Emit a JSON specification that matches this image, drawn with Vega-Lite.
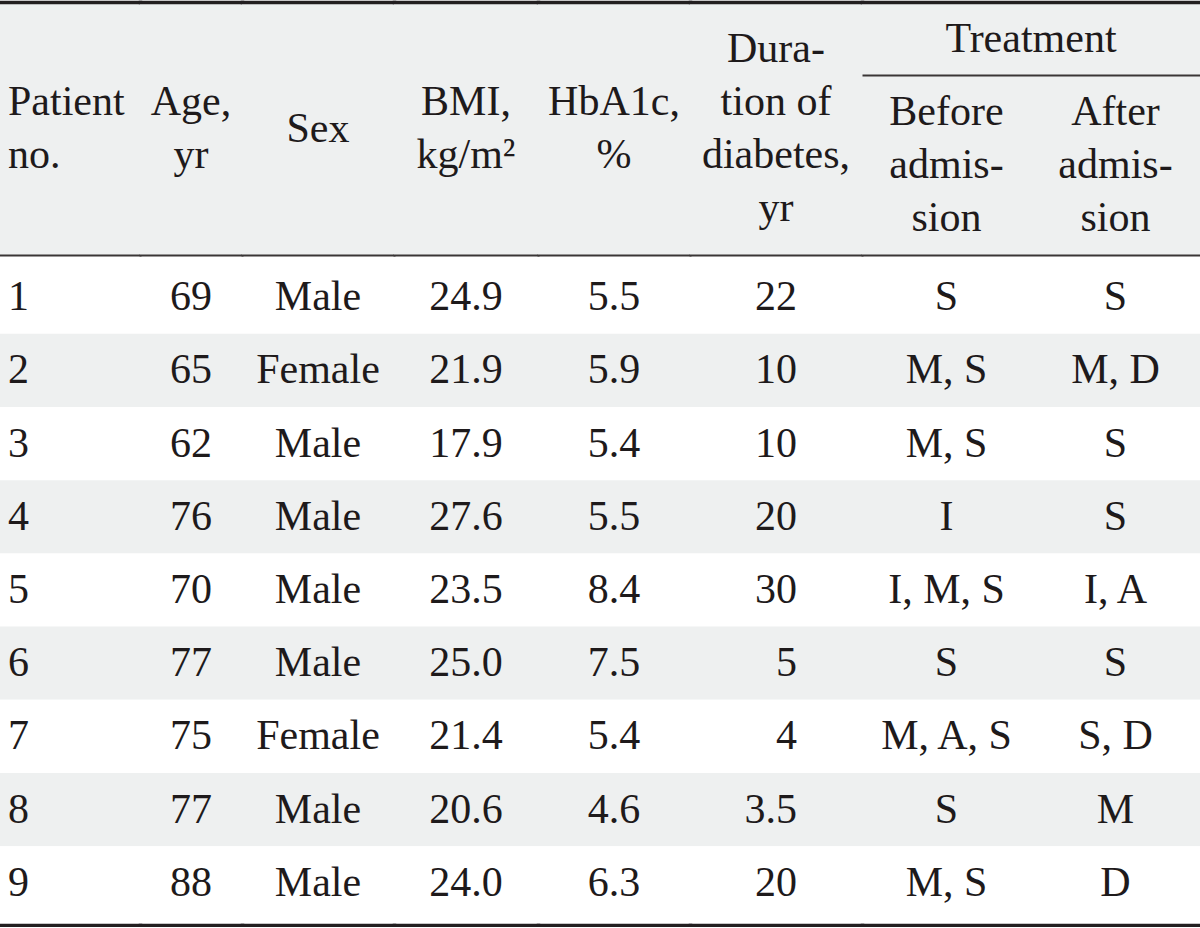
{
  "$schema": "https://vega.github.io/schema/vega-lite/v6.json",
  "padding": {"top": 2, "bottom": 2, "left": 0, "right": 0},
  "background": "white",
  "spacing": 0,
  "config": {
    "view": {"stroke": null},
    "concat": {"spacing": 0},
    "axis": {"labels": false, "ticks": false, "grid": false, "domainColor": "#231f20", "domainCap": "square"},
    "text": {"font": "Liberation Serif", "fontSize": 42, "color": "#1e1a1b"}
  },
  "data": {
    "values": [
      {"no": 1, "age": 69, "sex": "Male", "bmi": 24.9, "hba1c": 5.5, "duration": 22, "before": "S", "after": "S"},
      {"no": 2, "age": 65, "sex": "Female", "bmi": 21.9, "hba1c": 5.9, "duration": 10, "before": "M, S", "after": "M, D"},
      {"no": 3, "age": 62, "sex": "Male", "bmi": 17.9, "hba1c": 5.4, "duration": 10, "before": "M, S", "after": "S"},
      {"no": 4, "age": 76, "sex": "Male", "bmi": 27.6, "hba1c": 5.5, "duration": 20, "before": "I", "after": "S"},
      {"no": 5, "age": 70, "sex": "Male", "bmi": 23.5, "hba1c": 8.4, "duration": 30, "before": "I, M, S", "after": "I, A"},
      {"no": 6, "age": 77, "sex": "Male", "bmi": 25.0, "hba1c": 7.5, "duration": 5, "before": "S", "after": "S"},
      {"no": 7, "age": 75, "sex": "Female", "bmi": 21.4, "hba1c": 5.4, "duration": 4, "before": "M, A, S", "after": "S, D"},
      {"no": 8, "age": 77, "sex": "Male", "bmi": 20.6, "hba1c": 4.6, "duration": 3.5, "before": "S", "after": "M"},
      {"no": 9, "age": 88, "sex": "Male", "bmi": 24.0, "hba1c": 6.3, "duration": 20, "before": "M, S", "after": "D"}
    ]
  },
  "hconcat": [
    {
      "spacing": 0, "bounds": "flush",
      "vconcat": [
        {
          "width": 140, "height": 253, "view": {"fill": "#eef0f0", "stroke": null},
          "data": {"values": [{"key": "no", "label": "Patient\nno."}]},
          "mark": {"type": "text", "lineBreak": "\n", "lineHeight": 53, "baseline": "middle", "align": "left", "dx": 8, "dy": -26.5},
          "encoding": {
            "x": {"field": "key", "type": "nominal", "bandPosition": 0, "scale": {"type": "band", "paddingInner": 0, "paddingOuter": 0}, "axis": {"orient": "top", "title": null, "domainWidth": 3.5}},
            "text": {"field": "label"}
          }
        },
        {
          "width": 140, "height": 670,
          "transform": [{"fold": ["no"], "as": ["key", "value"]}],
          "layer": [
            {"mark": "rect", "encoding": {
              "x": {"field": "key", "type": "nominal", "scale": {"type": "band", "paddingInner": 0, "paddingOuter": 0}, "axis": {"orient": "bottom", "title": null, "domainWidth": 3.5}},
              "y": {"field": "no", "type": "ordinal", "scale": {"type": "band", "paddingInner": 0, "paddingOuter": 0.076}, "axis": null},
              "fill": {"condition": {"test": "datum.no % 2 == 0", "value": "#eef0f0"}, "value": "#ffffff"}}},
            {"mark": {"type": "text", "baseline": "middle", "align": "left", "dx": 8}, "encoding": {
              "x": {"field": "key", "type": "nominal", "bandPosition": 0, "scale": {"type": "band", "paddingInner": 0, "paddingOuter": 0}, "axis": {"orient": "top", "title": null, "domainWidth": 2, "domainColor": "#3a3636"}},
              "y": {"field": "no", "type": "ordinal", "scale": {"type": "band", "paddingInner": 0, "paddingOuter": 0.076}, "axis": null},
              "text": {"field": "value", "type": "nominal"}}}
          ],
          "resolve": {"axis": {"x": "independent"}}
        }
      ]
    },
    {
      "spacing": 0, "bounds": "flush",
      "vconcat": [
        {
          "width": 102, "height": 253, "view": {"fill": "#eef0f0", "stroke": null},
          "data": {"values": [{"key": "age", "label": "Age,\nyr"}]},
          "mark": {"type": "text", "lineBreak": "\n", "lineHeight": 53, "baseline": "middle", "dy": -26.5},
          "encoding": {
            "x": {"field": "key", "type": "nominal", "scale": {"type": "band", "paddingInner": 0, "paddingOuter": 0}, "axis": {"orient": "top", "title": null, "domainWidth": 3.5}},
            "text": {"field": "label"}
          }
        },
        {
          "width": 102, "height": 670,
          "transform": [{"fold": ["age"], "as": ["key", "value"]}],
          "layer": [
            {"mark": "rect", "encoding": {
              "x": {"field": "key", "type": "nominal", "scale": {"type": "band", "paddingInner": 0, "paddingOuter": 0}, "axis": {"orient": "bottom", "title": null, "domainWidth": 3.5}},
              "y": {"field": "no", "type": "ordinal", "scale": {"type": "band", "paddingInner": 0, "paddingOuter": 0.076}, "axis": null},
              "fill": {"condition": {"test": "datum.no % 2 == 0", "value": "#eef0f0"}, "value": "#ffffff"}}},
            {"mark": {"type": "text", "baseline": "middle"}, "encoding": {
              "x": {"field": "key", "type": "nominal", "scale": {"type": "band", "paddingInner": 0, "paddingOuter": 0}, "axis": {"orient": "top", "title": null, "domainWidth": 2, "domainColor": "#3a3636"}},
              "y": {"field": "no", "type": "ordinal", "scale": {"type": "band", "paddingInner": 0, "paddingOuter": 0.076}, "axis": null},
              "text": {"field": "value", "type": "nominal"}}}
          ],
          "resolve": {"axis": {"x": "independent"}}
        }
      ]
    },
    {
      "spacing": 0, "bounds": "flush",
      "vconcat": [
        {
          "width": 152, "height": 253, "view": {"fill": "#eef0f0", "stroke": null},
          "data": {"values": [{"key": "sex", "label": "Sex"}]},
          "mark": {"type": "text", "lineBreak": "\n", "lineHeight": 53, "baseline": "middle"},
          "encoding": {
            "x": {"field": "key", "type": "nominal", "scale": {"type": "band", "paddingInner": 0, "paddingOuter": 0}, "axis": {"orient": "top", "title": null, "domainWidth": 3.5}},
            "text": {"field": "label"}
          }
        },
        {
          "width": 152, "height": 670,
          "transform": [{"fold": ["sex"], "as": ["key", "value"]}],
          "layer": [
            {"mark": "rect", "encoding": {
              "x": {"field": "key", "type": "nominal", "scale": {"type": "band", "paddingInner": 0, "paddingOuter": 0}, "axis": {"orient": "bottom", "title": null, "domainWidth": 3.5}},
              "y": {"field": "no", "type": "ordinal", "scale": {"type": "band", "paddingInner": 0, "paddingOuter": 0.076}, "axis": null},
              "fill": {"condition": {"test": "datum.no % 2 == 0", "value": "#eef0f0"}, "value": "#ffffff"}}},
            {"mark": {"type": "text", "baseline": "middle"}, "encoding": {
              "x": {"field": "key", "type": "nominal", "scale": {"type": "band", "paddingInner": 0, "paddingOuter": 0}, "axis": {"orient": "top", "title": null, "domainWidth": 2, "domainColor": "#3a3636"}},
              "y": {"field": "no", "type": "ordinal", "scale": {"type": "band", "paddingInner": 0, "paddingOuter": 0.076}, "axis": null},
              "text": {"field": "value", "type": "nominal"}}}
          ],
          "resolve": {"axis": {"x": "independent"}}
        }
      ]
    },
    {
      "spacing": 0, "bounds": "flush",
      "vconcat": [
        {
          "width": 144, "height": 253, "view": {"fill": "#eef0f0", "stroke": null},
          "data": {"values": [{"key": "bmi", "label": "BMI,\nkg/m²"}]},
          "mark": {"type": "text", "lineBreak": "\n", "lineHeight": 53, "baseline": "middle", "dy": -26.5},
          "encoding": {
            "x": {"field": "key", "type": "nominal", "scale": {"type": "band", "paddingInner": 0, "paddingOuter": 0}, "axis": {"orient": "top", "title": null, "domainWidth": 3.5}},
            "text": {"field": "label"}
          }
        },
        {
          "width": 144, "height": 670,
          "transform": [{"fold": ["bmi"], "as": ["key", "value"]}],
          "layer": [
            {"mark": "rect", "encoding": {
              "x": {"field": "key", "type": "nominal", "scale": {"type": "band", "paddingInner": 0, "paddingOuter": 0}, "axis": {"orient": "bottom", "title": null, "domainWidth": 3.5}},
              "y": {"field": "no", "type": "ordinal", "scale": {"type": "band", "paddingInner": 0, "paddingOuter": 0.076}, "axis": null},
              "fill": {"condition": {"test": "datum.no % 2 == 0", "value": "#eef0f0"}, "value": "#ffffff"}}},
            {"mark": {"type": "text", "baseline": "middle"}, "encoding": {
              "x": {"field": "key", "type": "nominal", "scale": {"type": "band", "paddingInner": 0, "paddingOuter": 0}, "axis": {"orient": "top", "title": null, "domainWidth": 2, "domainColor": "#3a3636"}},
              "y": {"field": "no", "type": "ordinal", "scale": {"type": "band", "paddingInner": 0, "paddingOuter": 0.076}, "axis": null},
              "text": {"field": "value", "type": "quantitative", "format": ".1f"}}}
          ],
          "resolve": {"axis": {"x": "independent"}}
        }
      ]
    },
    {
      "spacing": 0, "bounds": "flush",
      "vconcat": [
        {
          "width": 152, "height": 253, "view": {"fill": "#eef0f0", "stroke": null},
          "data": {"values": [{"key": "hba1c", "label": "HbA1c,\n%"}]},
          "mark": {"type": "text", "lineBreak": "\n", "lineHeight": 53, "baseline": "middle", "dy": -26.5},
          "encoding": {
            "x": {"field": "key", "type": "nominal", "scale": {"type": "band", "paddingInner": 0, "paddingOuter": 0}, "axis": {"orient": "top", "title": null, "domainWidth": 3.5}},
            "text": {"field": "label"}
          }
        },
        {
          "width": 152, "height": 670,
          "transform": [{"fold": ["hba1c"], "as": ["key", "value"]}],
          "layer": [
            {"mark": "rect", "encoding": {
              "x": {"field": "key", "type": "nominal", "scale": {"type": "band", "paddingInner": 0, "paddingOuter": 0}, "axis": {"orient": "bottom", "title": null, "domainWidth": 3.5}},
              "y": {"field": "no", "type": "ordinal", "scale": {"type": "band", "paddingInner": 0, "paddingOuter": 0.076}, "axis": null},
              "fill": {"condition": {"test": "datum.no % 2 == 0", "value": "#eef0f0"}, "value": "#ffffff"}}},
            {"mark": {"type": "text", "baseline": "middle"}, "encoding": {
              "x": {"field": "key", "type": "nominal", "scale": {"type": "band", "paddingInner": 0, "paddingOuter": 0}, "axis": {"orient": "top", "title": null, "domainWidth": 2, "domainColor": "#3a3636"}},
              "y": {"field": "no", "type": "ordinal", "scale": {"type": "band", "paddingInner": 0, "paddingOuter": 0.076}, "axis": null},
              "text": {"field": "value", "type": "quantitative", "format": ".1f"}}}
          ],
          "resolve": {"axis": {"x": "independent"}}
        }
      ]
    },
    {
      "spacing": 0, "bounds": "flush",
      "vconcat": [
        {
          "width": 172, "height": 253, "view": {"fill": "#eef0f0", "stroke": null},
          "data": {"values": [{"key": "duration", "label": "Dura-\ntion of\ndiabetes,\nyr"}]},
          "mark": {"type": "text", "lineBreak": "\n", "lineHeight": 53, "baseline": "middle", "dy": -79.5},
          "encoding": {
            "x": {"field": "key", "type": "nominal", "scale": {"type": "band", "paddingInner": 0, "paddingOuter": 0}, "axis": {"orient": "top", "title": null, "domainWidth": 3.5}},
            "text": {"field": "label"}
          }
        },
        {
          "width": 172, "height": 670,
          "transform": [{"fold": ["duration"], "as": ["key", "value"]}],
          "layer": [
            {"mark": "rect", "encoding": {
              "x": {"field": "key", "type": "nominal", "scale": {"type": "band", "paddingInner": 0, "paddingOuter": 0}, "axis": {"orient": "bottom", "title": null, "domainWidth": 3.5}},
              "y": {"field": "no", "type": "ordinal", "scale": {"type": "band", "paddingInner": 0, "paddingOuter": 0.076}, "axis": null},
              "fill": {"condition": {"test": "datum.no % 2 == 0", "value": "#eef0f0"}, "value": "#ffffff"}}},
            {"mark": {"type": "text", "baseline": "middle", "align": "right", "dx": 21}, "encoding": {
              "x": {"field": "key", "type": "nominal", "scale": {"type": "band", "paddingInner": 0, "paddingOuter": 0}, "axis": {"orient": "top", "title": null, "domainWidth": 2, "domainColor": "#3a3636"}},
              "y": {"field": "no", "type": "ordinal", "scale": {"type": "band", "paddingInner": 0, "paddingOuter": 0.076}, "axis": null},
              "text": {"field": "value", "type": "nominal"}}}
          ],
          "resolve": {"axis": {"x": "independent"}}
        }
      ]
    },
    {
      "spacing": 0, "bounds": "flush",
      "vconcat": [
        {
          "width": 338, "height": 73, "view": {"fill": "#eef0f0", "stroke": null},
          "data": {"values": [{"key": "treatment", "label": "Treatment"}]},
          "mark": {"type": "text", "baseline": "middle"},
          "encoding": {
            "x": {"field": "key", "type": "nominal", "scale": {"type": "band", "paddingInner": 0, "paddingOuter": 0}, "axis": {"orient": "top", "title": null, "domainWidth": 3.5}},
            "text": {"field": "label"}
          }
        },
        {
          "width": 338, "height": 180, "view": {"fill": "#eef0f0", "stroke": null},
          "data": {"values": [{"key": "before", "label": "Before\nadmis-\nsion"}, {"key": "after", "label": "After\nadmis-\nsion"}]},
          "mark": {"type": "text", "lineBreak": "\n", "lineHeight": 53, "baseline": "middle", "dy": -53},
          "encoding": {
            "x": {"field": "key", "type": "nominal", "sort": ["before", "after"], "scale": {"type": "band", "paddingInner": 0, "paddingOuter": 0}, "axis": {"orient": "top", "title": null, "domainWidth": 2, "domainColor": "#3a3636", "domainCap": "butt"}},
            "text": {"field": "label"}
          }
        },
        {
          "width": 338, "height": 670,
          "transform": [{"fold": ["before", "after"], "as": ["key", "value"]}],
          "layer": [
            {"mark": "rect", "encoding": {
              "x": {"field": "key", "type": "nominal", "sort": ["before", "after"], "scale": {"type": "band", "paddingInner": 0, "paddingOuter": 0}, "axis": {"orient": "bottom", "title": null, "domainWidth": 3.5}},
              "y": {"field": "no", "type": "ordinal", "scale": {"type": "band", "paddingInner": 0, "paddingOuter": 0.076}, "axis": null},
              "fill": {"condition": {"test": "datum.no % 2 == 0", "value": "#eef0f0"}, "value": "#ffffff"}}},
            {"mark": {"type": "text", "baseline": "middle"}, "encoding": {
              "x": {"field": "key", "type": "nominal", "sort": ["before", "after"], "scale": {"type": "band", "paddingInner": 0, "paddingOuter": 0}, "axis": {"orient": "top", "title": null, "domainWidth": 2, "domainColor": "#3a3636"}},
              "y": {"field": "no", "type": "ordinal", "scale": {"type": "band", "paddingInner": 0, "paddingOuter": 0.076}, "axis": null},
              "text": {"field": "value", "type": "nominal"}}}
          ],
          "resolve": {"axis": {"x": "independent"}}
        }
      ]
    }
  ]
}
